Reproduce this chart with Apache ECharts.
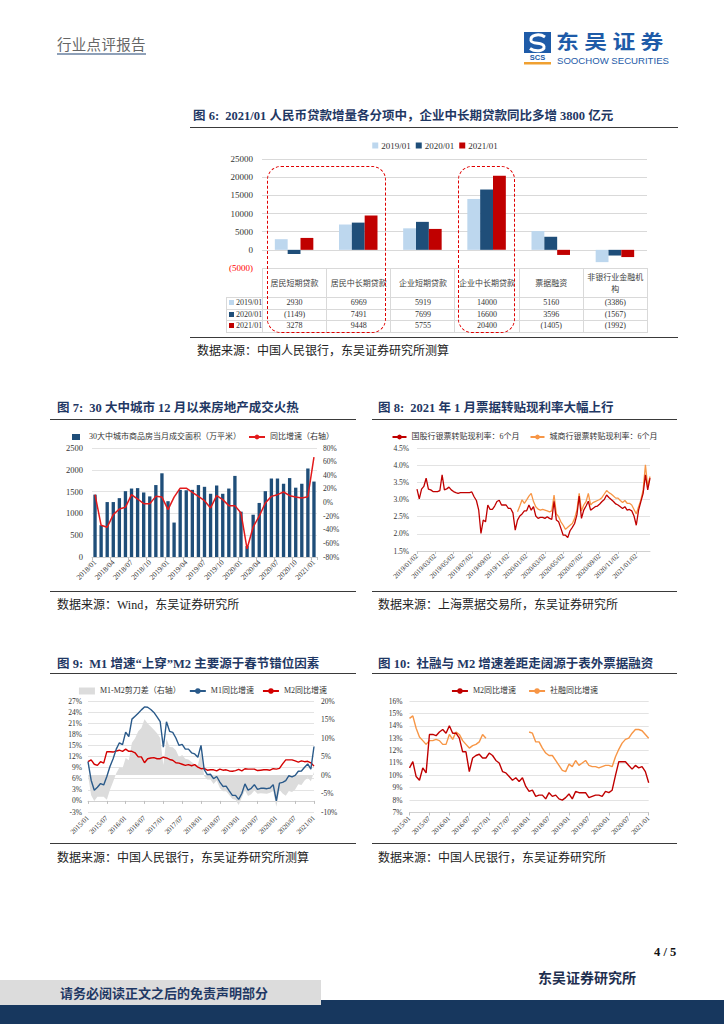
<!DOCTYPE html>
<html><head><meta charset="utf-8">
<script src="https://cdn.jsdelivr.net/npm/echarts@6/dist/echarts.min.js"></script>
<style>
body{margin:0;width:724px;height:1024px;position:relative;background:#fff;overflow:hidden;font-family:"Liberation Serif","Noto Sans CJK SC",serif;}
.abs{position:absolute;}
.title{position:absolute;font-weight:bold;color:#1F3864;font-size:12.5px;white-space:nowrap;line-height:16px;font-family:"Liberation Serif","Noto Sans CJK SC",serif;}
.rule{position:absolute;height:0;border-top:1.6px solid #3a3a3a;}
.src{position:absolute;font-size:12px;color:#222;white-space:nowrap;line-height:14px;font-family:"Liberation Serif","Noto Sans CJK SC",serif;}
.chart{position:absolute;}
.dash{position:absolute;border:1.5px dashed #E00000;border-radius:14px;z-index:5;}
#t6{position:absolute;left:226px;top:268px;border-collapse:collapse;table-layout:fixed;width:421px;font-family:"Liberation Serif",serif;font-size:8px;color:#333;}
#t6 td{border:1px solid #D9D9D9;padding:0;text-align:center;line-height:10px;overflow:hidden;}
#t6 tr.hd td{height:28px;font-family:"Noto Sans CJK SC",sans-serif;font-size:8px;line-height:12px;padding:0 3px;color:#404040;}
#t6 tr.rw td{height:10.5px;}
#t6 td.blank{border:none;}
#t6 td.lab{text-align:left;padding-left:2px;white-space:nowrap;}
#t6 td.lab i{display:inline-block;width:5px;height:5px;margin-right:2px;vertical-align:0px;}
</style></head><body>

<!-- header -->
<div class="abs" style="left:57px;top:36px;font-family:'Noto Sans CJK SC';font-size:14.5px;color:#666;line-height:16px;border-bottom:2px solid #8EA0B8;padding-bottom:1px;letter-spacing:0.3px;">行业点评报告</div>
<svg class="abs" style="left:524px;top:32px" width="30" height="34">
  <rect x="0" y="0" width="27" height="21" fill="#1E5BA8"/>
  <path d="M21,5 C15,1 6,3 7,8.5 C8,13 19,9.5 20,14.5 C21,19.5 11,20 6,16.5" stroke="#fff" stroke-width="3" fill="none"/>
  <text x="13.5" y="28" font-size="7.5" font-weight="bold" fill="#1E5BA8" text-anchor="middle" font-family="Liberation Sans">SCS</text>
  <rect x="0" y="30" width="27" height="2.5" fill="#F0A030"/>
</svg>
<div class="abs" style="left:556px;top:27px;font-family:'Noto Sans CJK SC';font-weight:bold;font-size:19px;letter-spacing:4.5px;color:#1E5BA8;line-height:27px;transform:scaleX(1.2);transform-origin:left top;white-space:nowrap;">东吴证券</div>
<div class="abs" style="left:557px;top:55.5px;font-family:'Liberation Sans';font-size:9.6px;color:#1E5BA8;line-height:10px;white-space:nowrap;">SOOCHOW SECURITIES</div>

<!-- figure 6 -->
<div class="title" style="left:193px;top:108px;">图 6:&nbsp; 2021/01 人民币贷款增量各分项中，企业中长期贷款同比多增 3800 亿元</div>
<div class="rule" style="left:190px;top:127px;width:488px;"></div>
<div id="c6" class="chart" style="left:190px;top:130px;width:490px;height:145px;"></div>
<div id="t6wrap"></div>
<div class="dash" style="left:267px;top:166px;width:117px;height:165px;"></div>
<div class="dash" style="left:458px;top:166px;width:55px;height:165px;"></div>
<div class="rule" style="left:190px;top:337px;width:488px;"></div>
<div class="src" style="left:197px;top:344px;">数据来源：中国人民银行，东吴证券研究所测算</div>

<!-- figure 7 / 8 -->
<div class="title" style="left:57px;top:400px;">图 7:&nbsp; 30 大中城市 12 月以来房地产成交火热</div>
<div class="rule" style="left:50px;top:419px;width:306px;"></div>
<div id="c7" class="chart" style="left:50px;top:424px;width:306px;height:166px;"></div>
<div class="rule" style="left:50px;top:591px;width:306px;"></div>
<div class="src" style="left:57px;top:598px;">数据来源：Wind，东吴证券研究所</div>

<div class="title" style="left:378px;top:400px;">图 8:&nbsp; 2021 年 1 月票据转贴现利率大幅上行</div>
<div class="rule" style="left:372px;top:419px;width:305px;"></div>
<div id="c8" class="chart" style="left:372px;top:424px;width:305px;height:166px;"></div>
<div class="rule" style="left:372px;top:591px;width:305px;"></div>
<div class="src" style="left:378px;top:598px;">数据来源：上海票据交易所，东吴证券研究所</div>

<!-- figure 9 / 10 -->
<div class="title" style="left:57px;top:656px;">图 9:&nbsp; M1 增速“上穿”M2 主要源于春节错位因素</div>
<div class="rule" style="left:50px;top:673px;width:306px;"></div>
<div id="c9" class="chart" style="left:50px;top:677px;width:306px;height:166px;"></div>
<div class="rule" style="left:50px;top:843px;width:306px;"></div>
<div class="src" style="left:57px;top:851px;">数据来源：中国人民银行，东吴证券研究所测算</div>

<div class="title" style="left:378px;top:656px;">图 10:&nbsp; 社融与 M2 增速差距走阔源于表外票据融资</div>
<div class="rule" style="left:372px;top:673px;width:305px;"></div>
<div id="c10" class="chart" style="left:372px;top:677px;width:305px;height:166px;"></div>
<div class="rule" style="left:372px;top:843px;width:305px;"></div>
<div class="src" style="left:378px;top:851px;">数据来源：中国人民银行，东吴证券研究所</div>

<!-- footer -->
<div class="abs" style="left:654px;top:945px;font-family:'Liberation Serif';font-weight:bold;font-size:12.5px;color:#111;">4 / 5</div>
<div class="abs" style="left:538px;top:968px;font-family:'Noto Sans CJK SC';font-weight:bold;font-size:14px;color:#1F2F4F;line-height:18px;">东吴证券研究所</div>
<div class="abs" style="left:0;top:1000px;width:724px;height:24px;background:#17375E;"></div>
<div class="abs" style="left:0;top:980px;width:321px;height:25px;background:#DCDCDC;"></div>
<div class="abs" style="left:60px;top:984px;font-family:'Noto Sans CJK SC';font-weight:bold;font-size:13px;color:#1F3864;line-height:17px;">请务必阅读正文之后的免责声明部分</div>

<script>
// ---------------- data: figure 6 ----------------
const cats6 = ['居民短期贷款','居民中长期贷款','企业短期贷款','企业中长期贷款','票据融资','非银行业金融机构'];
const years6 = ['2019/01','2020/01','2021/01'];
const loans2019 = [2930, 6969, 5919, 14000, 5160, -3386];
const loans2020 = [-1149, 7491, 7699, 16600, 3596, -1567];
const loans2021 = [3278, 9448, 5755, 20400, -1405, -1992];

// ---------------- data: figure 7 ----------------
const months7 = ['2018/01','2018/02','2018/03','2018/04','2018/05','2018/06','2018/07','2018/08','2018/09','2018/10','2018/11','2018/12',
 '2019/01','2019/02','2019/03','2019/04','2019/05','2019/06','2019/07','2019/08','2019/09','2019/10','2019/11','2019/12',
 '2020/01','2020/02','2020/03','2020/04','2020/05','2020/06','2020/07','2020/08','2020/09','2020/10','2020/11','2020/12','2021/01'];
const area7 = [1430,730,1260,1260,1350,1510,1570,1580,1480,1390,1650,1920,
 1280,790,1540,1530,1540,1650,1610,1450,1640,1450,1570,1860,
 1040,250,970,1240,1510,1800,1800,1680,1810,1590,1680,2030,1730];
const yoy7 = [11.5,-33.5,-36.4,-17.8,-9.5,-7.1,11.5,5.1,-1.7,-1.7,9.0,8.0,
 -10.5,8.0,21.0,21.0,15.0,9.0,2.7,-8.0,10.0,4.2,-4.6,-4.6,
 -15.4,-68.0,-36.0,-20.0,-0.7,9.0,11.5,15.4,10.0,8.0,6.6,8.5,66.7];

// ---------------- data: figure 8 (one sample every quarter month from 2019/01/02) ----------------
const ticks8 = ['2019/01/02','2019/03/02','2019/05/02','2019/07/02','2019/09/02','2019/11/02','2020/01/02','2020/03/02','2020/05/02','2020/07/02','2020/09/02','2020/11/02','2021/01/02'];
const SAMPLES_PER_TICK8 = 8;  // 8 quarter-month samples = 2 months between labelled dates
const ORANGE_START8 = 44;     // sample index where the city-bank series begins
const bigBank8 = [3.30,3.02,3.30,3.38,3.62,3.30,3.28,3.23,3.23,3.23,3.26,3.72,3.28,3.31,3.36,3.28,3.23,3.20,3.18,3.20,
 3.20,3.20,3.20,3.20,3.22,3.08,2.97,2.70,2.01,2.40,2.35,2.84,2.71,2.71,2.81,2.94,2.98,2.84,2.84,2.84,
 2.74,2.74,2.61,2.11,2.40,2.52,2.58,2.67,2.67,2.84,2.69,2.79,2.52,2.45,2.48,2.48,2.45,2.50,2.45,2.42,
 2.95,2.40,2.35,2.16,1.96,1.96,1.89,2.09,2.19,2.30,2.55,3.10,2.45,2.69,2.81,2.95,2.69,2.74,2.79,2.81,
 2.87,2.94,3.00,3.13,3.06,3.00,2.94,2.87,2.84,2.79,2.74,2.79,2.69,2.71,2.67,2.52,2.25,2.69,2.94,3.18,
 3.72,3.28,3.62];
const cityBank8 = [2.64,2.81,2.99,2.89,2.99,3.10,3.18,2.94,2.79,2.72,2.69,2.71,2.69,2.67,2.64,2.67,
 3.13,2.58,2.50,2.35,2.25,2.13,2.19,2.25,2.30,2.45,2.69,3.18,2.67,2.84,2.94,3.18,2.84,2.91,2.94,2.97,
 3.00,3.06,3.16,3.26,3.20,3.16,3.10,3.04,3.04,2.97,2.91,2.97,2.89,2.89,2.84,2.71,2.58,2.79,2.99,3.28,
 4.01,3.38,3.67];

// ---------------- data: figures 9 & 10 ----------------
const monthsM = ['2015/01','2015/02','2015/03','2015/04','2015/05','2015/06','2015/07','2015/08','2015/09','2015/10','2015/11','2015/12',
 '2016/01','2016/02','2016/03','2016/04','2016/05','2016/06','2016/07','2016/08','2016/09','2016/10','2016/11','2016/12',
 '2017/01','2017/02','2017/03','2017/04','2017/05','2017/06','2017/07','2017/08','2017/09','2017/10','2017/11','2017/12',
 '2018/01','2018/02','2018/03','2018/04','2018/05','2018/06','2018/07','2018/08','2018/09','2018/10','2018/11','2018/12',
 '2019/01','2019/02','2019/03','2019/04','2019/05','2019/06','2019/07','2019/08','2019/09','2019/10','2019/11','2019/12',
 '2020/01','2020/02','2020/03','2020/04','2020/05','2020/06','2020/07','2020/08','2020/09','2020/10','2020/11','2020/12','2021/01'];
const m1 = [10.6,5.6,2.9,3.7,4.7,4.3,6.6,9.3,11.4,14.0,15.7,15.2,
 18.6,17.4,22.1,22.9,23.7,24.6,25.4,25.3,24.7,23.9,22.7,21.4,
 14.5,21.4,18.8,18.5,17.0,15.0,15.3,14.0,14.0,13.0,12.7,11.8,
 15.0,8.5,7.1,7.2,6.0,6.6,5.1,3.9,4.0,2.7,1.5,1.5,
 0.4,2.0,4.6,2.9,3.4,4.4,3.1,3.4,3.4,3.3,3.5,4.4,
 0.0,4.8,5.0,5.5,6.8,6.5,6.9,8.0,8.1,9.1,10.0,8.6,14.7];
const m2 = [10.6,11.1,9.9,9.6,10.6,10.2,13.3,13.3,13.2,13.5,13.7,13.4,
 14.0,13.4,13.4,13.0,11.9,11.9,10.3,11.4,11.6,11.7,11.4,11.4,
 11.8,11.6,11.2,11.0,10.3,10.2,9.9,9.6,9.8,9.5,9.8,9.1,
 8.7,8.8,8.3,8.4,8.4,8.1,8.6,8.3,8.4,8.1,8.0,8.2,
 8.5,8.1,8.7,8.6,8.6,8.6,8.2,8.3,8.4,8.4,8.3,8.7,
 8.6,8.8,10.0,11.1,11.1,11.1,10.8,10.5,10.8,10.6,10.7,10.3,9.4];
const scissors = [0.0,-5.5,-7.0,-5.9,-5.9,-5.9,-6.7,-4.0,-1.8,0.5,2.0,1.8,
 4.6,4.0,8.7,9.9,11.8,12.7,15.1,13.9,13.1,12.2,11.3,10.0,
 2.7,9.8,7.6,7.5,6.7,4.8,5.4,4.4,4.2,3.5,2.9,2.7,
 6.3,-0.3,-1.2,-1.2,-2.4,-1.5,-3.5,-4.4,-4.4,-5.4,-6.5,-6.7,
 -8.1,-6.1,-4.1,-5.7,-5.2,-4.2,-5.1,-4.9,-5.0,-5.1,-4.8,-4.3,
 -8.6,-4.0,-5.0,-5.6,-4.3,-4.6,-3.9,-2.5,-2.7,-1.5,-0.7,-1.7,0.8];
const tsf = [14.6,14.8,13.8,13.1,12.8,12.5,12.8,12.8,12.9,12.8,12.5,12.5,
 13.3,12.9,13.5,13.3,12.8,12.5,12.2,12.4,12.5,12.7,13.3,13.0,
 null,null,null,null,null,null,null,null,null,null,null,null,
 13.5,13.4,12.7,12.7,12.2,11.8,11.6,11.6,11.2,10.8,10.4,10.3,
 10.9,10.7,11.2,10.8,11.0,11.2,10.8,10.7,10.7,10.6,10.7,10.8,
 10.8,10.7,11.5,12.1,12.6,12.9,13.0,13.4,13.7,13.7,13.6,13.3,13.0];

// ---------------- common ----------------
const SERIF = '"Liberation Serif","Noto Sans CJK SC",serif';
const TXT = '#333';
const GRID_C = '#E3E3E3';
function mk(id){ return echarts.init(document.getElementById(id), null, {renderer:'svg'}); }

// ---------------- figure 6 ----------------
const colors6 = ['#BDD7EE','#1F4E79','#C00000'];
const loans6 = [loans2019, loans2020, loans2021];
const fmt6 = v => v < 0 ? '(' + (-v) + ')' : String(v);
mk('c6').setOption({
  animation:false,
  legend:{top:6,left:'center',itemWidth:6,itemHeight:6,itemGap:5,icon:'rect',
    textStyle:{fontSize:9,fontFamily:SERIF,color:TXT,padding:[0,0,0,-2]}},
  grid:{left:72,right:33,top:29,bottom:7},
  xAxis:{type:'category',data:cats6,axisLine:{show:false},axisTick:{show:false},axisLabel:{show:false}},
  yAxis:{type:'value',min:-5000,max:25000,interval:5000,
    axisLine:{show:false},axisTick:{show:false},
    axisLabel:{fontSize:9,fontFamily:SERIF,margin:9,color:(v)=> (Number(v) < 0 ? '#FF0000' : TXT),formatter:fmt6},
    splitLine:{lineStyle:{color:'#D9D9D9'}}},
  series: years6.map((y,k)=>({type:'bar',name:y,data:loans6[k],barGap:'0%',barCategoryGap:'40%',itemStyle:{color:colors6[k]}}))
});
(function(){
  let h = '<table id="t6"><colgroup><col style="width:36px">' + cats6.map(()=>'<col style="width:64.17px">').join('') + '</colgroup>';
  h += '<tr class="hd"><td class="blank"></td>' + cats6.map(c=>'<td>'+c+'</td>').join('') + '</tr>';
  loans6.forEach((arr,k)=>{
    h += '<tr class="rw"><td class="lab"><i style="background:'+colors6[k]+'"></i>'+years6[k]+'</td>' + arr.map(v=>'<td>'+fmt6(v)+'</td>').join('') + '</tr>';
  });
  h += '</table>';
  document.getElementById('t6wrap').innerHTML = h;
})();

// ---------------- figure 7 ----------------
const n7a = '30大中城市商品房当月成交面积（万平米）', n7b = '同比增速（右轴）';
mk('c7').setOption({
  animation:false,
  legend:{top:4,left:'center',itemWidth:16,itemHeight:6,itemGap:7,
    textStyle:{fontSize:8,fontFamily:SERIF,color:TXT},
    data:[{name:n7a,icon:'path://M0,0H8V6H0Z'},{name:n7b}]},
  grid:{left:42,right:39,top:24,bottom:33},
  xAxis:{type:'category',data:months7,
    axisLine:{lineStyle:{color:'#D0D0D0'}},
    axisTick:{show:true,interval:2,length:3,lineStyle:{color:'#C0C0C0'}},
    axisLabel:{interval:2,rotate:45,fontSize:7.5,fontFamily:SERIF,color:TXT,margin:4}},
  yAxis:[
    {type:'value',min:0,max:2500,interval:500,axisLine:{show:false},axisTick:{show:false},
     axisLabel:{fontSize:8.5,fontFamily:SERIF,color:TXT,margin:9,formatter:(v)=>String(v)},splitLine:{lineStyle:{color:GRID_C}}},
    {type:'value',min:-80,max:80,interval:20,axisLine:{show:false},axisTick:{show:false},
     axisLabel:{fontSize:7.5,fontFamily:SERIF,color:TXT,formatter:'{value}%',margin:6},splitLine:{show:false}}],
  series:[
    {type:'bar',name:n7a,data:area7,barWidth:'55%',itemStyle:{color:'#1F4E79'}},
    {type:'line',name:n7b,yAxisIndex:1,data:yoy7,symbol:'none',lineStyle:{color:'#E31A1C',width:1.5},itemStyle:{color:'#E31A1C'}}]
});

// ---------------- figure 8 ----------------
const n8a = '国股行银票转贴现利率：6个月', n8b = '城商行银票转贴现利率：6个月';
const samples8 = bigBank8.map((v,i)=>'s'+i);   // sample slots (quarter months)
const city8Full = new Array(ORANGE_START8).fill(null).concat(cityBank8);
mk('c8').setOption({
  animation:false,
  legend:{top:4,left:'center',itemWidth:14,itemHeight:6,itemGap:10,
    textStyle:{fontSize:8,fontFamily:SERIF,color:TXT},data:[n8a,n8b]},
  grid:{left:45,right:27,top:24,bottom:39},
  xAxis:{type:'category',data:samples8,boundaryGap:false,
    axisLine:{show:true,lineStyle:{color:'#D0D0D0'}},
    axisTick:{show:true,interval:SAMPLES_PER_TICK8-1,length:3,lineStyle:{color:'#C8C8C8'}},
    splitLine:{show:false},
    axisLabel:{interval:SAMPLES_PER_TICK8-1,rotate:45,fontSize:7,fontFamily:SERIF,color:TXT,margin:4,
      formatter:(val,idx)=> ticks8[idx/SAMPLES_PER_TICK8] || ''}},
  yAxis:{type:'value',min:1.5,max:4.5,interval:0.5,axisLine:{show:false},axisTick:{show:false},
    axisLabel:{fontSize:7.5,fontFamily:SERIF,color:TXT,margin:8,formatter:(v)=>v.toFixed(1)+'%'},
    splitLine:{lineStyle:{color:GRID_C}}},
  series:[
    {type:'line',name:n8b,data:city8Full,symbol:'none',
     lineStyle:{color:'#F79646',width:1.3},itemStyle:{color:'#F79646'}},
    {type:'line',name:n8a,data:bigBank8,symbol:'none',
     lineStyle:{color:'#C00000',width:1.3},itemStyle:{color:'#C00000'}}]
});

// ---------------- figure 9 ----------------
const n9a = 'M1-M2剪刀差（右轴）', n9b = 'M1同比增速', n9c = 'M2同比增速';
mk('c9').setOption({
  animation:false,
  legend:{top:5,left:'center',itemWidth:16,itemHeight:7,itemGap:8,
    textStyle:{fontSize:8,fontFamily:SERIF,color:TXT},
    data:[{name:n9a,icon:'rect'},n9b,n9c]},
  grid:{left:38,right:42,top:24,bottom:31},
  xAxis:[
    {type:'category',data:monthsM,boundaryGap:false,position:'bottom',
     axisLine:{show:false,onZero:false},axisTick:{show:false},
     axisLabel:{interval:5,rotate:45,fontSize:7,fontFamily:SERIF,color:TXT,margin:5}},
    {type:'category',data:monthsM,boundaryGap:false,position:'bottom',
     axisLine:{show:true,onZero:true,lineStyle:{color:'#D0D0D0'}},
     axisTick:{show:true,interval:5,length:3,lineStyle:{color:'#BFBFBF'}},axisLabel:{show:false}}],
  yAxis:[
    {type:'value',min:-3,max:27,interval:3,axisLine:{show:false},axisTick:{show:false},
     axisLabel:{fontSize:7.5,fontFamily:SERIF,color:TXT,formatter:'{value}%',margin:6},splitLine:{lineStyle:{color:GRID_C}}},
    {type:'value',min:-10,max:20,interval:5,axisLine:{show:false},axisTick:{show:false},
     axisLabel:{fontSize:7.5,fontFamily:SERIF,color:TXT,formatter:'{value}%',margin:7},splitLine:{show:false}}],
  series:[
    {type:'line',name:n9a,yAxisIndex:1,data:scissors,symbol:'none',lineStyle:{width:0},
     areaStyle:{color:'#DCDCDC',opacity:1},itemStyle:{color:'#DCDCDC'}},
    {type:'line',name:n9c,data:m2,symbol:'none',lineStyle:{color:'#D40000',width:1.4},itemStyle:{color:'#D40000'}},
    {type:'line',name:n9b,data:m1,symbol:'none',lineStyle:{color:'#2A5A8A',width:1.4},itemStyle:{color:'#2A5A8A'}}]
});

// ---------------- figure 10 ----------------
const n10a = 'M2同比增速', n10b = '社融同比增速';
mk('c10').setOption({
  animation:false,
  legend:{top:5,left:'center',itemWidth:16,itemHeight:7,itemGap:12,
    textStyle:{fontSize:8,fontFamily:SERIF,color:TXT},data:[n10a,n10b]},
  grid:{left:37.5,right:28.3,top:24,bottom:30.5},
  xAxis:{type:'category',data:monthsM,boundaryGap:false,
    axisLine:{show:true,lineStyle:{color:'#D0D0D0'}},
    axisTick:{show:true,interval:5,length:3,lineStyle:{color:'#BFBFBF'}},
    axisLabel:{interval:5,rotate:45,fontSize:7,fontFamily:SERIF,color:TXT,margin:5}},
  yAxis:{type:'value',min:7,max:16,interval:1,axisLine:{show:false},axisTick:{show:false},
    axisLabel:{fontSize:7.5,fontFamily:SERIF,color:TXT,formatter:'{value}%',margin:7},
    splitLine:{lineStyle:{color:GRID_C}}},
  series:[
    {type:'line',name:n10b,data:tsf,symbol:'none',lineStyle:{color:'#F79646',width:1.4},itemStyle:{color:'#F79646'}},
    {type:'line',name:n10a,data:m2,symbol:'none',lineStyle:{color:'#C00000',width:1.4},itemStyle:{color:'#C00000'}}]
});
</script>
</body></html>
